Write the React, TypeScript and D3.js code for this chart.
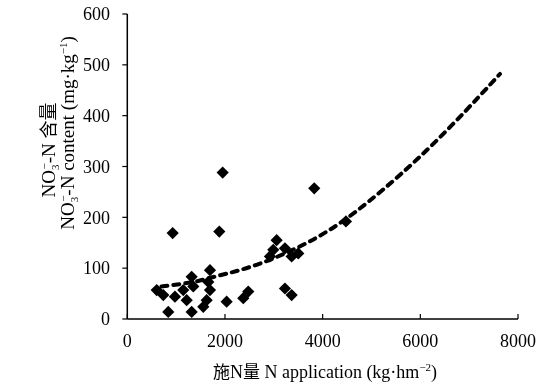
import * as d3 from "d3";

// nitrogen application (kg·hm-2) and nitrate content (mg·kg-1)
const nApplication = [
  1953, 3828, 929, 1884, 4477, 3058, 2989, 3228, 3501, 3365, 2921, 1693, 1318,
  602, 737, 976, 1146, 1351, 1216, 1693, 1625, 839, 1318, 1556, 2034, 2477,
  2375, 1659, 3228, 3365,
];
const no3Content = [
  288, 257, 169, 172, 192, 155, 136, 139, 129, 123, 123, 96, 83,
  57, 47, 44, 57, 64, 37, 57, 37, 14, 14, 24, 34, 54,
  41, 73, 60, 47,
];

// dashed trend line, sampled from the figure
const trendX = [700, 874, 1420, 1755, 2648, 3944, 4900, 6264, 7630];
const trendY = [64, 66, 73, 83, 103, 159, 225, 340, 482];

const xTicks = [0, 2000, 4000, 6000, 8000];
const yTicks = [0, 100, 200, 300, 400, 500, 600];

const W = 547;
const H = 389;
const FONT = "'Liberation Serif', 'Times New Roman', 'Noto Sans CJK SC', serif";
const CJK = "'Noto Sans CJK SC', 'Liberation Serif', serif";

export default function App() {
  const x = d3.scaleLinear().domain([0, 8000]).range([127.3, 518]);
  const y = d3.scaleLinear().domain([0, 600]).range([319, 14]);

  const trend = d3
    .line<number>()
    .x((d) => x(trendX[d]))
    .y((d) => y(trendY[d]))
    .curve(d3.curveBasis)(trendX.map((_, i) => i));

  const diamond = d3.symbol(d3.symbolDiamond2, 95)();

  return (
    <svg
      width={W}
      height={H}
      style={{ position: "absolute", left: 0, top: 0, background: "#fff", willChange: "transform" }}
      fontFamily={FONT}
      fill="#000"
    >
      {/* axes */}
      <line x1={x(0)} x2={x(0)} y1={y(600)} y2={y(0)} stroke="#000" strokeWidth={1.5} />
      <line x1={x(0)} x2={x(8000)} y1={y(0)} y2={y(0)} stroke="#000" strokeWidth={1.5} />
      {yTicks.map((t) => (
        <g key={"y" + t}>
          <line x1={x(0) - 5} x2={x(0)} y1={y(t)} y2={y(t)} stroke="#000" strokeWidth={1.2} />
          <text x={110} y={y(t)} dy="0.35em" textAnchor="end" fontSize={18}>
            {t}
          </text>
        </g>
      ))}
      {xTicks.map((t) => (
        <g key={"x" + t}>
          <line x1={x(t)} x2={x(t)} y1={y(0) - 5} y2={y(0)} stroke="#000" strokeWidth={1.2} />
          <text x={x(t)} y={347} textAnchor="middle" fontSize={18}>
            {t}
          </text>
        </g>
      ))}

      {/* trend */}
      <path
        d={trend ?? ""}
        fill="none"
        stroke="#000"
        strokeWidth={4}
        strokeDasharray="6 6"
        strokeLinecap="round"
      />

      {/* points */}
      {nApplication.map((v, i) => (
        <path
          key={i}
          d={diamond ?? ""}
          transform={`translate(${x(v)},${y(no3Content[i])})`}
          fill="#000"
        />
      ))}

      {/* x title */}
      <text x={325} y={378} textAnchor="middle" fontSize={18}>
        <tspan fontFamily={CJK} fontSize={17}>施</tspan>
        <tspan>N</tspan>
        <tspan fontFamily={CJK} fontSize={17}>量</tspan>
        <tspan> N application (kg·hm</tspan>
        <tspan fontSize={11} dy={-7}>−2</tspan>
        <tspan dy={7}>)</tspan>
      </text>

      {/* y title */}
      <g transform="translate(55,150) rotate(-90)">
        <text textAnchor="middle" fontSize={19}>
          <tspan>NO</tspan>
          <tspan fontSize={11} dy={4}>3</tspan>
          <tspan fontSize={11} dy={-11} dx={-5}>−</tspan>
          <tspan dy={7}>-N </tspan>
          <tspan fontFamily={CJK} fontSize={18}>含量</tspan>
        </text>
      </g>
      <g transform="translate(74,133) rotate(-90)">
        <text textAnchor="middle" fontSize={19}>
          <tspan>NO</tspan>
          <tspan fontSize={11} dy={4}>3</tspan>
          <tspan fontSize={11} dy={-11} dx={-5}>−</tspan>
          <tspan dy={7}>-N content (mg·kg</tspan>
          <tspan fontSize={11} dy={-7}>−1</tspan>
          <tspan dy={7}>)</tspan>
        </text>
      </g>
    </svg>
  );
}
